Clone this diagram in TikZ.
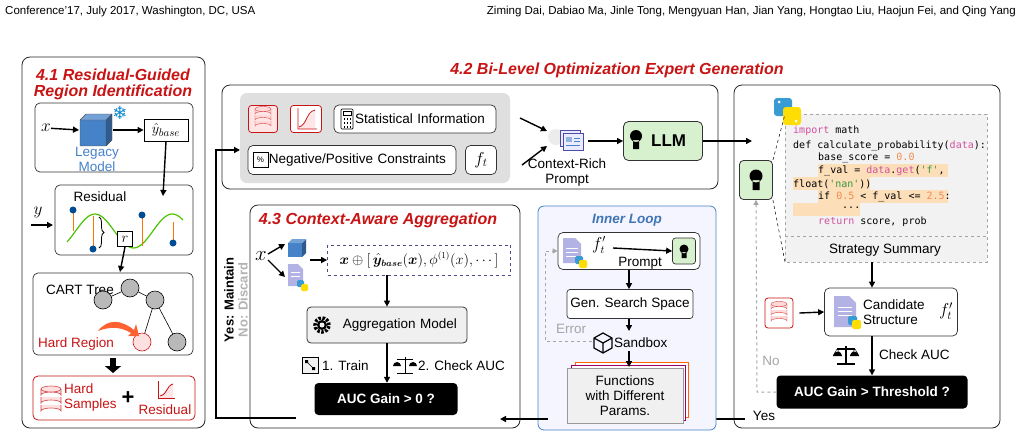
\documentclass[tikz,border=0pt]{standalone}
\usepackage{amsmath,amssymb,bm}
\usepackage{fontspec}
\setmainfont{Liberation Sans}
\setmonofont{DejaVu Sans Mono}
\newfontfamily\dejavu{DejaVu Sans}
\usetikzlibrary{arrows.meta,decorations.pathreplacing,shapes.geometric}
\definecolor{tred}{RGB}{200,20,20}
\definecolor{lblue}{RGB}{70,130,200}
\definecolor{lgreen}{RGB}{215,240,205}
\definecolor{kw}{RGB}{210,80,160}
\definecolor{num}{RGB}{240,140,80}
\definecolor{str}{RGB}{60,150,60}
\definecolor{hl}{RGB}{252,222,185}
\begin{document}
\begin{tikzpicture}[x=1pt,y=-1pt,
  panel/.style={draw=black!85,line width=0.8pt,rounded corners=8pt},
  ibox/.style={draw=black!80,line width=0.7pt,rounded corners=5pt,fill=white},
  lbl/.style={font=\fontsize{13.5}{15}\selectfont,inner sep=0pt},
  ttl/.style={font=\fontsize{16}{17}\selectfont\bfseries\itshape,text=tred,inner sep=0pt},
  arr/.style={-{Triangle[length=6pt,width=6pt]},line width=1.4pt},
  garr/.style={-{Triangle[length=5pt,width=5pt]},gray!70,dashed,line width=1pt},
  blk/.style={fill=black,rounded corners=4pt,text=white,font=\fontsize{13.5}{14}\selectfont\bfseries},
  code/.style={font=\fontsize{10}{10}\ttfamily,inner sep=0pt,anchor=west}]
\useasboundingbox (0,0) rectangle (1022,437);
\fill[white] (0,0) rectangle (1022,437);
\node[anchor=west,inner sep=0pt,font=\fontsize{11.5}{12}\selectfont] (h1) at (5,12) {Conference'17, July 2017, Washington, DC, USA};
\node[anchor=east,inner sep=0pt,font=\fontsize{11.5}{12}\selectfont] (h2) at (1016,12) {Ziming Dai, Dabiao Ma, Jinle Tong, Mengyuan Han, Jian Yang, Hongtao Liu, Haojun Fei, and Qing Yang};

% ================= 4.1 =================
\draw[panel] (22,57) rectangle (205,428);
\node[ttl] (t41a) at (113,75) {4.1 Residual-Guided};
\node[ttl] (t41b) at (113,92) {Region Identification};
\draw[ibox] (35,103) rectangle (193,172);
\node[lbl,font=\fontsize{18}{18}\selectfont] (x1) at (46,128) {$x$};
\fill[lblue] (80,120) rectangle (106,146);
\fill[lblue!70!black] (106,120) -- (112,114) -- (112,140) -- (106,146) -- cycle;
\fill[lblue!75!white] (80,120) -- (86,114) -- (112,114) -- (106,120) -- cycle;
\draw[black!70,line width=0.4pt] (80,120) rectangle (106,146) (106,120) -- (112,114) -- (112,140) -- (106,146) (80,120) -- (86,114) -- (112,114);
\coordinate (cubeL) at (79,130);
\coordinate (cubeR) at (113,130);
\node[text=cyan!70!blue,font=\dejavu\fontsize{18}{18}\selectfont,inner sep=0pt] (snow) at (120,113) {❄};
\node[draw,line width=0.8pt,inner sep=2pt,minimum width=44pt,minimum height=22pt,font=\fontsize{15}{15}\selectfont] (yb) at (166,130) {$\hat y_{base}$};
\draw[arr] (x1) -- (cubeL);
\draw[arr] (cubeR) -- (yb);
\node[lbl,text=lblue,align=center] (lm) at (97,159) {Legacy\\Model};
\draw[ibox] (55,185) rectangle (193,255);
\node[lbl] (rest) at (100,197) {Residual};
\coordinate (ybd) at (163,196);
\draw[arr] (yb.south) -- (ybd);
\node[lbl,font=\fontsize{18}{18}\selectfont] (yl) at (38,212) {$y$};
\coordinate (ys) at (31,225);
\coordinate (ye) at (53,225);
\draw[arr] (ys) -- (ye);
\draw[green!60!black!60!lime,line width=1.2pt,domain=0:1,samples=50,smooth] plot ({67+116*\x},{231-17*sin(\x*540-40)});
\foreach \xx/\yd/\yc in {73/210/231, 93/249/216, 142/215/246, 173/243/222}{
  \draw[orange!90!red,line width=1pt] (\xx,\yd) -- (\xx,\yc);
  \fill[blue!40!black!70!cyan] (\xx,\yd) circle (3.5pt);
}
\draw[decorate,decoration={brace,amplitude=5pt},line width=0.8pt] (99,217) -- (99,248);
\node[draw,line width=0.8pt,fill=white,minimum size=15pt,inner sep=0pt,font=\fontsize{15}{15}\selectfont] (rb) at (125,239) {$r$};
\draw[ibox] (33,273) rectangle (193,355);
\draw[arr] (rb.south) -- (120,272);
\node[lbl] (cart) at (80,290) {CART Tree};
\tikzset{tn/.style={circle,draw=black,line width=0.6pt,fill=gray!55,minimum size=18pt,inner sep=0pt}}
\node[tn] (n0) at (130,288) {};
\node[tn] (n1) at (103,300) {};
\node[tn] (n2) at (155,300) {};
\node[tn,fill=red!12,draw=tred] (n3) at (142,342) {};
\node[tn] (n4) at (177,342) {};
\draw[line width=0.6pt] (n0) -- (n1) (n0) -- (n2) (n2) -- (n3) (n2) -- (n4);
\fill[red!55!orange!80] (98,331) .. controls (108,318) and (122,320) .. (134,330) -- (136,324) -- (139,336) -- (128,336) -- (131,333) .. controls (120,326) and (108,327) .. (98,331) -- cycle;
\node[lbl,text=tred] (hr) at (76,344) {Hard Region};
\draw[-{Triangle[length=7pt,width=16pt]},line width=6pt] (113,358) -- (113,373);
\draw[draw=tred,rounded corners=5pt,line width=0.8pt] (33,376) rectangle (195,420);
\foreach \yy in {405,397,389}{
  \fill[red!12,draw=tred!80,line width=0.6pt] (41,\yy) -- (41,\yy+6) arc[start angle=180,end angle=360,x radius=10,y radius=3] -- (61,\yy) ;
}
\fill[red!12,draw=tred!80,line width=0.6pt] (51,389) ellipse (10 and 3);
\node[lbl,text=tred,align=left,anchor=west] (hs) at (64,398) {Hard\\Samples};
\node[font=\fontsize{22}{22}\selectfont\bfseries,inner sep=0pt] (plus) at (128,398) {+};
\fill[red!10] (158,398) -- (173,383) -- (173,398) -- cycle;
\draw[tred,line width=0.8pt] (158,381) -- (158,398) -- (175,398);
\draw[tred,line width=0.8pt] (160,396) .. controls (168,394) and (166,386) .. (173,384);
\node[lbl,text=tred] (rr) at (165,410) {Residual};

% ================= 4.2 =================
\node[ttl] (t42) at (617,70) {4.2 Bi-Level Optimization Expert Generation};
\draw[panel] (222,85) rectangle (718,189);
\fill[gray!25,rounded corners=7pt] (240,93) rectangle (510,183);
\node[draw=tred,fill=red!10,rounded corners=3pt,minimum width=29pt,minimum height=27pt,line width=0.8pt] (db1) at (263,119) {};
\foreach \yy in {121,115,109}{\draw[tred!80,fill=red!15] (255,\yy) -- (255,\yy+5) arc[start angle=180,end angle=360,x radius=8,y radius=2.5] -- (271,\yy);}
\fill[red!15,draw=tred!80] (263,109) ellipse (8 and 2.5);
\node[draw=tred,fill=white,rounded corners=3pt,minimum width=31pt,minimum height=27pt,line width=0.8pt] (ch1) at (306,119) {};
\fill[red!10] (298,129) -- (315,110) -- (315,129) -- cycle;
\draw[tred,line width=0.8pt] (298,108) -- (298,129) -- (317,129) (299,127) .. controls (307,125) and (306,112) .. (315,110);
\node[ibox,lbl,minimum height=28pt,minimum width=162pt,text width=140pt,align=right,inner sep=3pt] (stat) at (415,119) {Statistical Information};
\draw[line width=0.7pt,rounded corners=1pt] (341,109) rectangle (353,129);
\draw (343,111) rectangle (351,115);
\foreach \a in {344.5,347.5,350.5}{\foreach \b in {119,123,127}{\fill (\a-0.8,\b-0.8) rectangle (\a+0.8,\b+0.8);}}
\node[ibox,lbl,minimum height=29pt,minimum width=208pt,text width=188pt,align=right,inner sep=3pt] (neg) at (352,160) {Negative/Positive Constraints};
\draw[line width=0.7pt] (253,152) rectangle (268,167);
\node[font=\fontsize{8}{8}\selectfont,inner sep=0pt] (pct) at (260.5,159.5) {\%};
\node[ibox,minimum height=29pt,minimum width=31pt,font=\fontsize{18}{18}\selectfont] (ft) at (481,160) {$f_t$};
\coordinate (pa1) at (520,118);
\coordinate (pa2) at (522,165);
\fill[gray!15] (556,137) circle (8);
\draw[blue!50!black!70,fill=blue!8,line width=0.7pt] (560,130) rectangle (580,146);
\draw[blue!50!black!70,fill=blue!8,line width=0.7pt] (563,133) rectangle (583,150);
\fill[lblue!60] (566,137) rectangle (572,142);
\draw[lblue] (574,138) -- (580,138) (574,141) -- (580,141) (566,145) -- (580,145);
\draw[arr] (pa1) -- (547,131);
\draw[arr] (pa2) -- (547,146);
\node[lbl,align=center] (crp) at (567,173) {Context-Rich\\Prompt};
\node[draw=black!80,fill=lgreen,rounded corners=5pt,minimum width=79pt,minimum height=39pt,font=\fontsize{17}{17}\selectfont\bfseries,line width=0.8pt] (llm) at (663,141) {\phantom{X}LLM};
\fill (636,136) circle (6) (633,140) rectangle (639,149);
\draw[arr] (588,141) -- (llm.west);

% ================= right panel =================
\draw[panel] (734,85) rectangle (1000,428);
\coordinate (rin) at (752,141);
\draw[arr] (llm.east) -- (rin);
\draw[gray!70,dashed,fill=gray!10,line width=0.7pt] (785,114) rectangle (987,262);
\draw[gray!70,dashed,line width=0.7pt] (785,236) -- (987,236);
\fill[hl] (818,164) rectangle (948,177);
\fill[hl] (793,177) rectangle (870,190);
\fill[hl] (818,190) rectangle (948,203);
\fill[hl] (793,203) rectangle (860,216);
\node[code] (c1) at (793,131) {{\color{kw}import} math};
\node[code] (c2) at (793,146) {def calculate\_probability({\color{kw}data}):};
\node[code] (c3) at (818,158) {base\_score = {\color{num}0.0}};
\node[code] (c4) at (818,171) {f\_val = {\color{kw}data}.{\color{kw}get}({\color{str}'f'}, };
\node[code] (c5) at (793,184) {float({\color{str}'nan'}))};
\node[code] (c6) at (818,197) {if {\color{num}0.5} < f\_val <= {\color{num}2.5}:};
\node[code] (c7) at (842,208) {...};
\node[code] (c8) at (818,222) {{\color{kw}return} score, prob};
\node[lbl] (ss) at (885,250) {Strategy Summary};
\fill[lblue!80!cyan,rounded corners=3pt] (774,98) rectangle (792,116);
\fill[yellow!80!orange,rounded corners=3pt] (783,107) rectangle (801,125);
\fill[white] (779,102) circle (1.5) (796,121) circle (1.5);
\node[draw=black!80,fill=lgreen,rounded corners=4pt,minimum width=33pt,minimum height=39pt,line width=0.8pt] (llm2) at (756,180) {};
\fill (756,176) circle (6.5) (752.5,180) rectangle (759.5,190);
\draw[dashed,line width=0.5pt] (llm2.north east) -- (785,114);
\draw[dashed,line width=0.5pt] (llm2.south east) -- (785,262);
\node[ibox,minimum width=133pt,minimum height=48pt] (cand) at (891,312) {};
\draw[arr] (872,262) -- (cand.north -| 872,0);
\fill[gray!50!blue!40] (834,296) -- (849,296) -- (856,303) -- (856,327) -- (834,327) -- cycle;
\draw[white,line width=0.8pt] (838,307) -- (852,307) (838,311) -- (852,311) (838,315) -- (852,315);
\fill[lblue!80!cyan,rounded corners=1.5pt] (848,316) rectangle (857,325);
\fill[yellow!80!orange,rounded corners=1.5pt] (852,320) rectangle (861,329);
\node[lbl,align=left,anchor=west] (candt) at (863,312) {Candidate\\Structure};
\node[font=\fontsize{18}{18}\selectfont,inner sep=0pt] (ftp) at (946,311) {$f_t'$};
\node[draw=tred,fill=white,rounded corners=3pt,minimum width=28pt,minimum height=30pt,line width=0.8pt] (db2) at (779,313) {};
\foreach \yy in {316,310,304}{\draw[tred!80,fill=red!15] (771,\yy) -- (771,\yy+5) arc[start angle=180,end angle=360,x radius=8,y radius=2.5] -- (787,\yy);}
\fill[red!15,draw=tred!80] (779,304) ellipse (8 and 2.5);
\draw[arr] (db2.east) ++(6,0) -- (cand.west);
\node[blk,minimum width=191pt,minimum height=33pt] (thr) at (872,392) {AUC Gain > Threshold ?};
\draw[arr] (cand.south -| 872,0) -- (thr.north -| 872,0);
\node[lbl,anchor=west] (cauc) at (879,355) {Check AUC};
\draw[line width=1.2pt] (846,346) -- (846,364) (837,364) -- (855,364) (837,349) -- (855,349);
\fill (833,356) arc[start angle=180,end angle=360,radius=4.5] -- cycle;
\fill (850,356) arc[start angle=180,end angle=360,radius=4.5] -- cycle;
\draw (837,349) -- (833,356) (837,349) -- (842,356) (855,349) -- (850,356) (855,349) -- (859,356);
\coordinate (nob) at (757,392);
\draw[garr] (thr.west) -- (nob) -- (llm2.south);
\node[lbl,text=gray!70] (no) at (771,361) {No};
\node[lbl] (yes) at (764,416) {Yes};
\coordinate (yesS) at (745,419);
\coordinate (yesE) at (695,419);
\draw[arr] (yesS) -- (yesE);

% ================= inner loop =================
\draw[draw=lblue,fill=blue!4,rounded corners=6pt,line width=0.8pt] (538,206) rectangle (716,430);
\node[lbl,text=lblue!90!black,font=\fontsize{13.5}{14}\selectfont\bfseries\itshape] (il) at (627,220) {Inner Loop};
\node[ibox,minimum width=142pt,minimum height=37pt] (pbox) at (629,251) {};
\fill[gray!50!blue!40] (563,238) -- (575,238) -- (581,244) -- (581,263) -- (563,263) -- cycle;
\draw[white,line width=0.7pt] (566,248) -- (578,248) (566,252) -- (578,252) (566,256) -- (578,256);
\fill[lblue!80!cyan,rounded corners=1.5pt] (575,256) rectangle (583,264);
\fill[yellow!80!orange,rounded corners=1.5pt] (579,260) rectangle (587,268);
\node[font=\fontsize{16}{16}\selectfont,inner sep=0pt] (ftp2) at (599,245) {$f_t'$};
\node[draw=black!80,fill=lgreen,rounded corners=3pt,minimum width=23pt,minimum height=26pt,line width=0.7pt] (llm3) at (684,251) {};
\fill (684,249) circle (4.5) (681.5,252) rectangle (686.5,258);
\draw[arr] (613,248) -- (llm3.west);
\node[lbl] (prm) at (640,263) {Prompt};
\node[ibox,lbl,rounded corners=3pt,minimum width=126pt,minimum height=29pt] (gss) at (630,304) {Gen. Search Space};
\draw[arr] (pbox.south -| 629,0) -- (gss.north -| 629,0);
\draw[line width=1.2pt,line join=round] (603,333) -- (612,338) -- (612,348) -- (603,353) -- (594,348) -- (594,338) -- cycle (594,338) -- (603,343) -- (612,338) (603,343) -- (603,353);
\node[lbl,anchor=west] (sbx) at (614,343) {Sandbox};
\draw[arr] (gss.south -| 629,0) -- (629,331);
\coordinate (e1) at (545,341);
\coordinate (e2) at (545,251);
\draw[garr] (592,341) -- (e1) -- (e2) -- (pbox.west);
\node[lbl,text=gray!70] (err) at (571,329) {Error};
\draw[orange!80!red,fill=white,line width=0.8pt] (575,362) rectangle (688,417);
\draw[violet!80!red,fill=white,line width=0.8pt] (571,365) rectangle (685,420);
\node[draw=gray!80,fill=gray!12,line width=1pt,minimum width=116pt,minimum height=55pt,lbl,align=center] (fun) at (625,396) {Functions\\with Different\\Params.};
\draw[arr] (629,351) -- (629,367);
\coordinate (ilS) at (548,419);
\coordinate (ilE) at (500,419);
\draw[arr] (ilS) -- (ilE);

% ================= 4.3 =================
\draw[panel] (250,205) rectangle (520,428);
\node[ttl] (t43) at (378,220) {4.3 Context-Aware Aggregation};
\node[font=\fontsize{20}{20}\selectfont,inner sep=0pt] (x3) at (261,256) {$x$};
\fill[lblue] (288,243) rectangle (302,257);
\fill[lblue!70!black] (302,243) -- (306,239) -- (306,253) -- (302,257) -- cycle;
\fill[lblue!75!white] (288,243) -- (292,239) -- (306,239) -- (302,243) -- cycle;
\fill[gray!50!blue!40] (288,264) -- (298,264) -- (303,269) -- (303,286) -- (288,286) -- cycle;
\draw[white,line width=0.6pt] (291,272) -- (300,272) (291,276) -- (300,276);
\fill[lblue!80!cyan,rounded corners=1.5pt] (297,280) rectangle (304,287);
\fill[yellow!80!orange,rounded corners=1.5pt] (301,284) rectangle (308,291);
\draw[arr] (268,254) -- (285,244);
\draw[arr] (268,260) -- (285,277);
\node[draw=blue!30!black!70,dashed,line width=0.8pt,minimum width=183pt,minimum height=30pt,font=\fontsize{13.5}{14}\selectfont] (form) at (419,260) {$\bm{x}\oplus[\,\hat{\bm{y}}_{\bm{base}}(\bm{x}),\phi^{(1)}(x),\cdots]$};
\draw[arr] (310,260) -- (form.west);
\node[draw=black!80,fill=gray!12,rounded corners=4pt,line width=0.8pt,minimum width=160pt,minimum height=36pt,lbl,text width=140pt,align=right] (agg) at (387,325) {Aggregation Model\hspace{4pt}};
\node[circle,draw,line width=3.5pt,dash pattern=on 2.5pt off 1.5pt,minimum size=14pt,inner sep=0pt] (gear) at (322,325) {};
\fill (322,325) circle (5); \fill[gray!12] (322,325) circle (2.5);
\draw[arr] (form.south -| 387,0) -- (agg.north -| 387,0);
\node[blk,minimum width=143pt,minimum height=32pt] (g0) at (386,399) {AUC Gain > 0 ?};
\draw[arr] (agg.south -| 387,0) -- (g0.north -| 387,0);
\draw[line width=0.6pt,fill=gray!10] (302,357) rectangle (318,373);
\fill (305,360) rectangle (308,363) (312,367) rectangle (315,370);
\draw (307,362) -- (313,368);
\node[lbl,anchor=west] (tr) at (322,366) {1. Train};
\draw[line width=1pt] (405,357) -- (405,373) (397,373) -- (413,373) (397,359) -- (413,359);
\fill (393,366) arc[start angle=180,end angle=360,radius=4] -- cycle;
\fill (409,366) arc[start angle=180,end angle=360,radius=4] -- cycle;
\node[lbl,anchor=west] (ca) at (418,366) {2. Check AUC};
\coordinate (l1) at (296,418);
\coordinate (l2) at (216,418);
\coordinate (l3) at (216,150);
\coordinate (l4) at (240,150);
\draw[arr,line width=1.8pt] (l1) -- (l2) -- (l3) -- (l4);
\node[rotate=90,lbl,font=\fontsize{13}{14}\selectfont\bfseries] (ym) at (229,300) {Yes: Maintain};
\node[rotate=90,lbl,font=\fontsize{13}{14}\selectfont\bfseries,text=gray!60] (nd) at (243,300) {No: Discard};
\end{tikzpicture}
\end{document}
